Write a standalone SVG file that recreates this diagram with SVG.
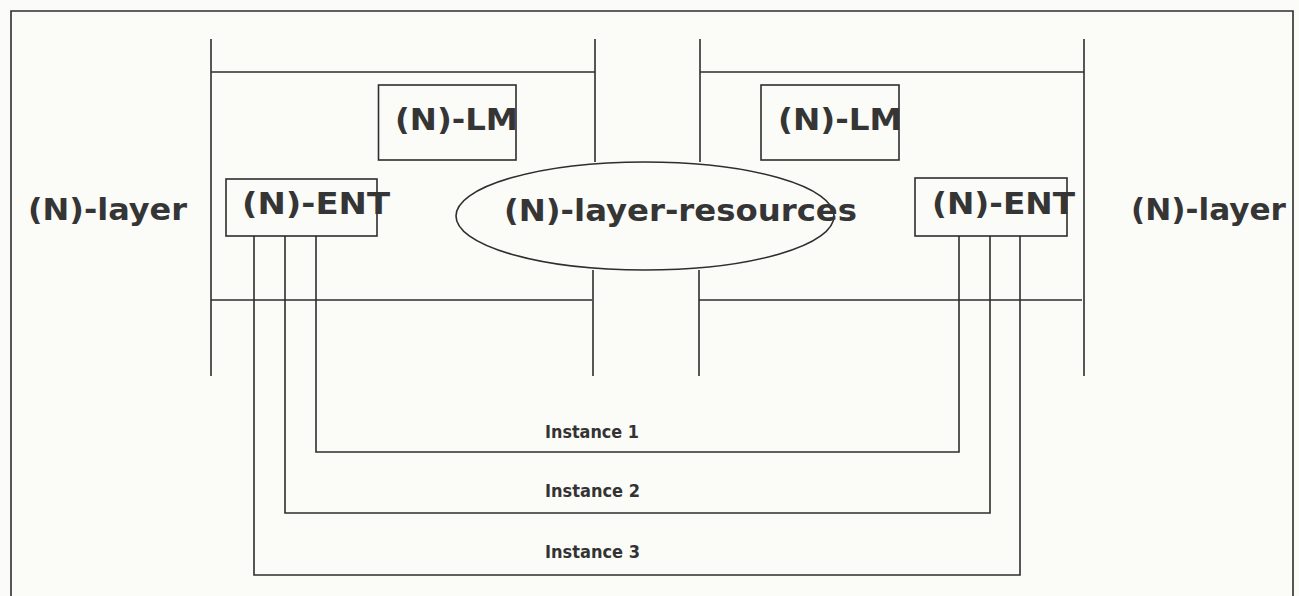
<svg xmlns="http://www.w3.org/2000/svg" width="1299" height="596" viewBox="0 0 1299 596">
  <style>
    .ln { stroke: #2e2e2e; stroke-width: 1.6; fill: none; }
    .box { stroke: #2e2e2e; stroke-width: 1.6; fill: none; }
    .big { font-family: "DejaVu Sans", "Verdana", sans-serif; font-weight: bold; font-size: 30px; fill: #353535; }
    .inst { font-family: "DejaVu Sans", "Liberation Sans", sans-serif; font-weight: bold; font-size: 18px; fill: #333; }
  </style>
  <rect x="0" y="0" width="1299" height="596" fill="#fbfbf8"/>

  <!-- outer frame -->
  <g id="frame">
    <path class="ln" d="M11,596 V11 H1293 V596"/>
  </g>

  <!-- side labels -->
  <g id="layer-left">
    <text class="big" x="28" y="220" textLength="159" lengthAdjust="spacingAndGlyphs">(N)-layer</text>
  </g>
  <g id="layer-right">
    <text class="big" x="1131" y="220" textLength="155" lengthAdjust="spacingAndGlyphs">(N)-layer</text>
  </g>

  <!-- left system -->
  <g id="system-left">
    <path class="ln" d="M211,39 V376 M211,72 H595 M211,300 H592 M595,39 V162 M593,270 V376"/>
  </g>
  <!-- right system -->
  <g id="system-right">
    <path class="ln" d="M700,39 V162 M699,270 V376 M700,72 H1084 M699,300 H1082 M1084,39 V376"/>
  </g>

  <g id="lm-left">
    <rect class="box" x="378.5" y="85" width="137.5" height="75"/>
    <text class="big" x="395" y="130" textLength="123" lengthAdjust="spacingAndGlyphs">(N)-LM</text>
  </g>
  <g id="lm-right">
    <rect class="box" x="761" y="85" width="138" height="75"/>
    <text class="big" x="778" y="130" textLength="124" lengthAdjust="spacingAndGlyphs">(N)-LM</text>
  </g>

  <g id="ent-left">
    <rect class="box" x="226" y="179" width="151" height="57"/>
    <text class="big" x="242" y="214" textLength="148" lengthAdjust="spacingAndGlyphs">(N)-ENT</text>
  </g>
  <g id="ent-right">
    <rect class="box" x="915" y="178" width="152" height="58"/>
    <text class="big" x="932" y="214" textLength="143" lengthAdjust="spacingAndGlyphs">(N)-ENT</text>
  </g>

  <g id="resources">
    <ellipse class="box" cx="645" cy="216" rx="189" ry="54" fill="#fbfbf8"/>
    <text class="big" x="504" y="221" textLength="353" lengthAdjust="spacingAndGlyphs">(N)-layer-resources</text>
  </g>

  <!-- connection instances between the two entities -->
  <g id="connectors">
    <path class="ln" d="M316,236 V452 H959 V236"/>
    <path class="ln" d="M285,236 V513 H990 V236"/>
    <path class="ln" d="M254,236 V575 H1020 V236"/>
  </g>

  <g id="instance-labels">
    <text class="inst" x="545" y="438" textLength="94" lengthAdjust="spacingAndGlyphs">Instance 1</text>
    <text class="inst" x="545" y="497" textLength="95" lengthAdjust="spacingAndGlyphs">Instance 2</text>
    <text class="inst" x="545" y="558" textLength="95" lengthAdjust="spacingAndGlyphs">Instance 3</text>
  </g>
</svg>
